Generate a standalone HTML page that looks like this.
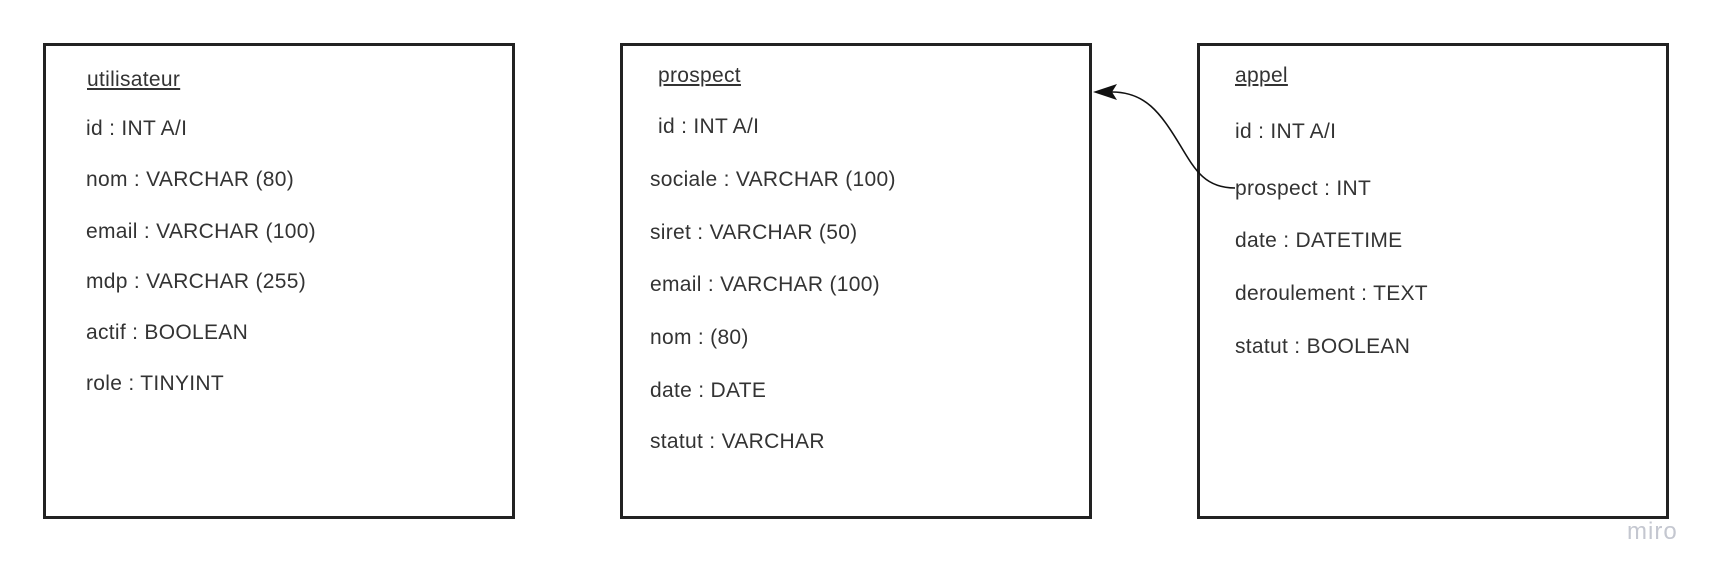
<!DOCTYPE html>
<html><head><meta charset="utf-8"><style>
body{margin:0;width:1722px;height:580px;background:#fff;position:relative;overflow:hidden;font-family:"Liberation Sans",sans-serif;}
.b{position:absolute;border:3px solid #222;box-sizing:border-box;}
.t{position:absolute;font-size:21px;line-height:24px;color:#333;white-space:nowrap;letter-spacing:0.3px;}
.u{text-decoration:underline;}
</style></head><body>
<div class="b" style="left:43px;top:43px;width:472px;height:476px"></div>
<div class="b" style="left:620px;top:43px;width:472px;height:476px"></div>
<div class="b" style="left:1197px;top:43px;width:472px;height:476px"></div>

<div class="t u" style="left:87px;top:68px">utilisateur</div>
<div class="t" style="left:86px;top:117px">id : INT A/I</div>
<div class="t" style="left:86px;top:168px">nom : VARCHAR (80)</div>
<div class="t" style="left:86px;top:220px">email : VARCHAR (100)</div>
<div class="t" style="left:86px;top:270px">mdp : VARCHAR (255)</div>
<div class="t" style="left:86px;top:321px">actif : BOOLEAN</div>
<div class="t" style="left:86px;top:372px">role : TINYINT</div>

<div class="t u" style="left:658px;top:64px">prospect</div>
<div class="t" style="left:658px;top:115px">id : INT A/I</div>
<div class="t" style="left:650px;top:168px">sociale : VARCHAR (100)</div>
<div class="t" style="left:650px;top:221px">siret : VARCHAR (50)</div>
<div class="t" style="left:650px;top:273px">email : VARCHAR (100)</div>
<div class="t" style="left:650px;top:326px">nom : (80)</div>
<div class="t" style="left:650px;top:379px">date : DATE</div>
<div class="t" style="left:650px;top:430px">statut : VARCHAR</div>

<div class="t u" style="left:1235px;top:64px">appel</div>
<div class="t" style="left:1235px;top:120px">id : INT A/I</div>
<div class="t" style="left:1235px;top:177px">prospect : INT</div>
<div class="t" style="left:1235px;top:229px">date : DATETIME</div>
<div class="t" style="left:1235px;top:282px">deroulement : TEXT</div>
<div class="t" style="left:1235px;top:335px">statut : BOOLEAN</div>

<svg style="position:absolute;left:0;top:0" width="1722" height="580">
<path d="M1235,188 C1205,188 1195,170 1180,145 C1160,112 1145,92 1112,92" fill="none" stroke="#111" stroke-width="1.6"/>
<polygon points="1093,92 1117,84 1112,92 1117,100" fill="#111"/>
</svg>
<div style="position:absolute;left:1627px;top:518px;font-size:24px;letter-spacing:1px;color:#c4c7d0;font-family:'Liberation Sans',sans-serif">miro</div>
</body></html>
